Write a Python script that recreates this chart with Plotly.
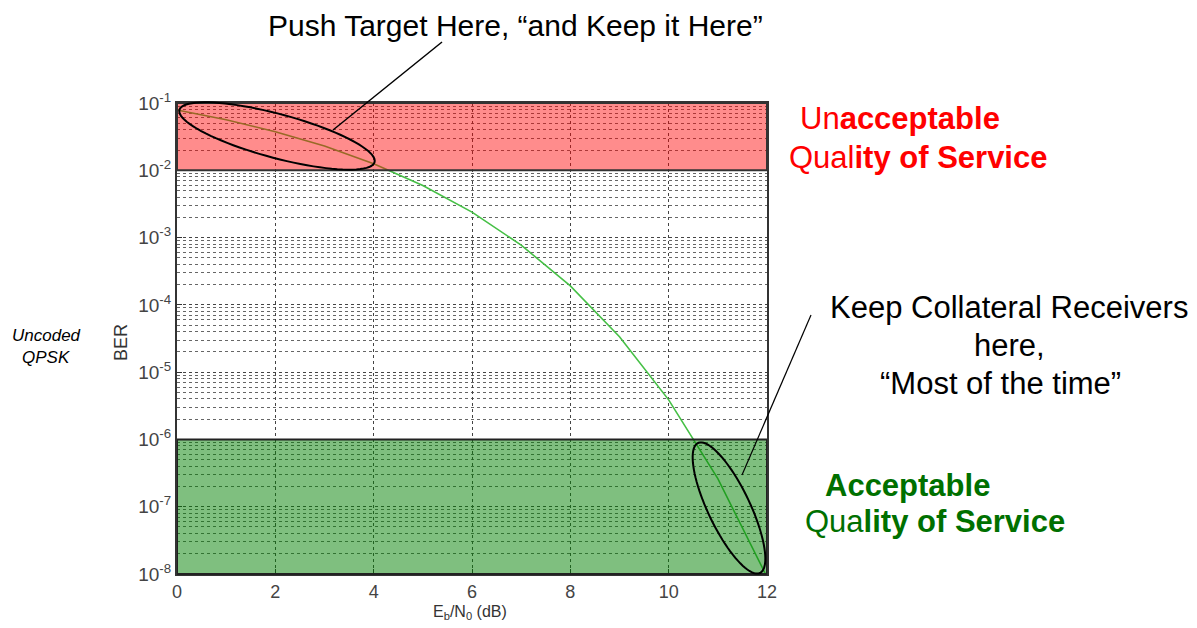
import numpy as np
import plotly.graph_objects as go

# ---- data ----
ebn0_db = [0, 1, 2, 3, 4, 5, 6, 7, 8, 9, 10, 11, 12]
ber = [7.86e-2, 5.63e-2, 3.75e-2, 2.29e-2, 1.25e-2, 5.95e-3, 2.39e-3,
       7.73e-4, 1.91e-4, 3.36e-5, 3.87e-6, 2.61e-7, 9.0e-9]
x_ticks = [0, 2, 4, 6, 8, 10, 12]
y_exponents = [-1, -2, -3, -4, -5, -6, -7, -8]
bad_band = (1e-2, 1e-1)
good_band = (1e-8, 1e-6)
y_range_exp = (-8, -1)

# page offset (browser body margin)
OX, OY = 8, 8
W, H = 1197, 628
PW, PH = 590, 471
L, T = 177 - OX, 103 - OY
R = W - L - PW
B = H - T - PH

def px(x):
    return (x - OX - L) / PW

def py(y):
    return (H - B - (y - OY)) / PH

def yfrac(v):
    return (np.log10(v) - y_range_exp[0]) / (y_range_exp[1] - y_range_exp[0])

def ellipse_path(cx, cy, a, b, ang_deg, n=90):
    t = np.linspace(0, 2 * np.pi, n)
    ang = np.radians(ang_deg)
    xs = cx + a * np.cos(t) * np.cos(ang) - b * np.sin(t) * np.sin(ang)
    ys = cy + a * np.cos(t) * np.sin(ang) + b * np.sin(t) * np.cos(ang)
    pts = [f"{px(x):.5f},{py(y):.5f}" for x, y in zip(xs, ys)]
    return "M" + " L".join(pts) + " Z"

fig = go.Figure()
fig.add_trace(go.Scatter(x=ebn0_db, y=ber, mode="lines",
                         line=dict(color="#46c046", width=1.6),
                         showlegend=False, hoverinfo="skip"))

minor_vals = [k * 10.0 ** e for e in range(-8, -1) for k in range(2, 10)]

fig.update_layout(
    width=W, height=H,
    margin=dict(l=L, r=R, t=T, b=B),
    paper_bgcolor="white", plot_bgcolor="white",
    font=dict(family="Liberation Sans, Arial, sans-serif", color="#000"),
    xaxis=dict(range=[0, 12], tickvals=x_ticks, ticktext=[str(v) for v in x_ticks],
               showgrid=True, gridcolor="#444", griddash="dot", gridwidth=1,
               showline=True, linecolor="#333", linewidth=2, mirror=True,
               ticks="inside", ticklen=5, tickcolor="#333",
               tickfont=dict(size=18, color="#444"), zeroline=False),
    yaxis=dict(type="log", range=list(y_range_exp),
               tickvals=[10.0 ** e for e in y_exponents],
               ticktext=[f"10<sup>{e}</sup>" for e in y_exponents],
               showgrid=True, gridcolor="#444", griddash="dot", gridwidth=1,
               minor=dict(tickvals=minor_vals, showgrid=True, gridcolor="#666",
                          griddash="dot", gridwidth=1),
               showline=True, linecolor="#333", linewidth=2, mirror=True,
               ticks="inside", ticklen=5, tickcolor="#333",
               tickfont=dict(size=19, color="#444"), zeroline=False),
)

shapes = [
    dict(type="rect", xref="x", yref="paper", x0=0, x1=12,
         y0=float(yfrac(bad_band[0])), y1=float(yfrac(bad_band[1])),
         fillcolor="rgba(255,0,0,0.45)", line=dict(color="#333", width=2),
         layer="above"),
    dict(type="rect", xref="x", yref="paper", x0=0, x1=12,
         y0=float(yfrac(good_band[0])), y1=float(yfrac(good_band[1])),
         fillcolor="rgba(0,128,0,0.5)", line=dict(color="#222", width=2),
         layer="above"),
    dict(type="path", xref="paper", yref="paper",
         path=ellipse_path(277, 136, 101, 22, 15),
         line=dict(color="black", width=2)),
    dict(type="path", xref="paper", yref="paper",
         path=ellipse_path(729, 508, 72, 21, 64.5),
         line=dict(color="black", width=2)),
    dict(type="line", xref="paper", yref="paper",
         x0=px(333), y0=py(130), x1=px(442), y1=py(42),
         line=dict(color="black", width=1.5)),
    dict(type="line", xref="paper", yref="paper",
         x0=px(742), y0=py(475), x1=px(811), y1=py(315),
         line=dict(color="black", width=1.2)),
]
fig.update_layout(shapes=shapes)

def ann(text, x, y, size, color="black", **kw):
    fig.add_annotation(text=text, xref="paper", yref="paper", x=px(x), y=py(y),
                       xanchor="center", yanchor="middle", showarrow=False,
                       font=dict(size=size, color=color), **kw)

ann("Push Target Here, “and Keep it Here”", 515, 25, 30)
ann("Un<b>acceptable</b>", 900, 118, 31, "#ff0000")
ann("Qual<b>ity of Service</b>", 918, 157, 31, "#ff0000")
ann("Keep Collateral Receivers", 1009, 307, 31)
ann("here,", 1009, 345, 31)
ann("“Most of the time”", 1000, 383, 31)
ann("<b>Acceptable</b>", 908, 485, 31, "#007000")
ann("Qua<b>lity of Service</b>", 935, 521, 31, "#007000")
ann("<i>Uncoded</i>", 46, 335, 17)
ann("<i>QPSK</i>", 46, 357, 17)
ann("BER", 121, 343, 18, "#333", textangle=-90)
ann("E<sub>b</sub>/N<sub>0</sub> (dB)", 470, 612, 16, "#333")

fig.write_html("out.html")
